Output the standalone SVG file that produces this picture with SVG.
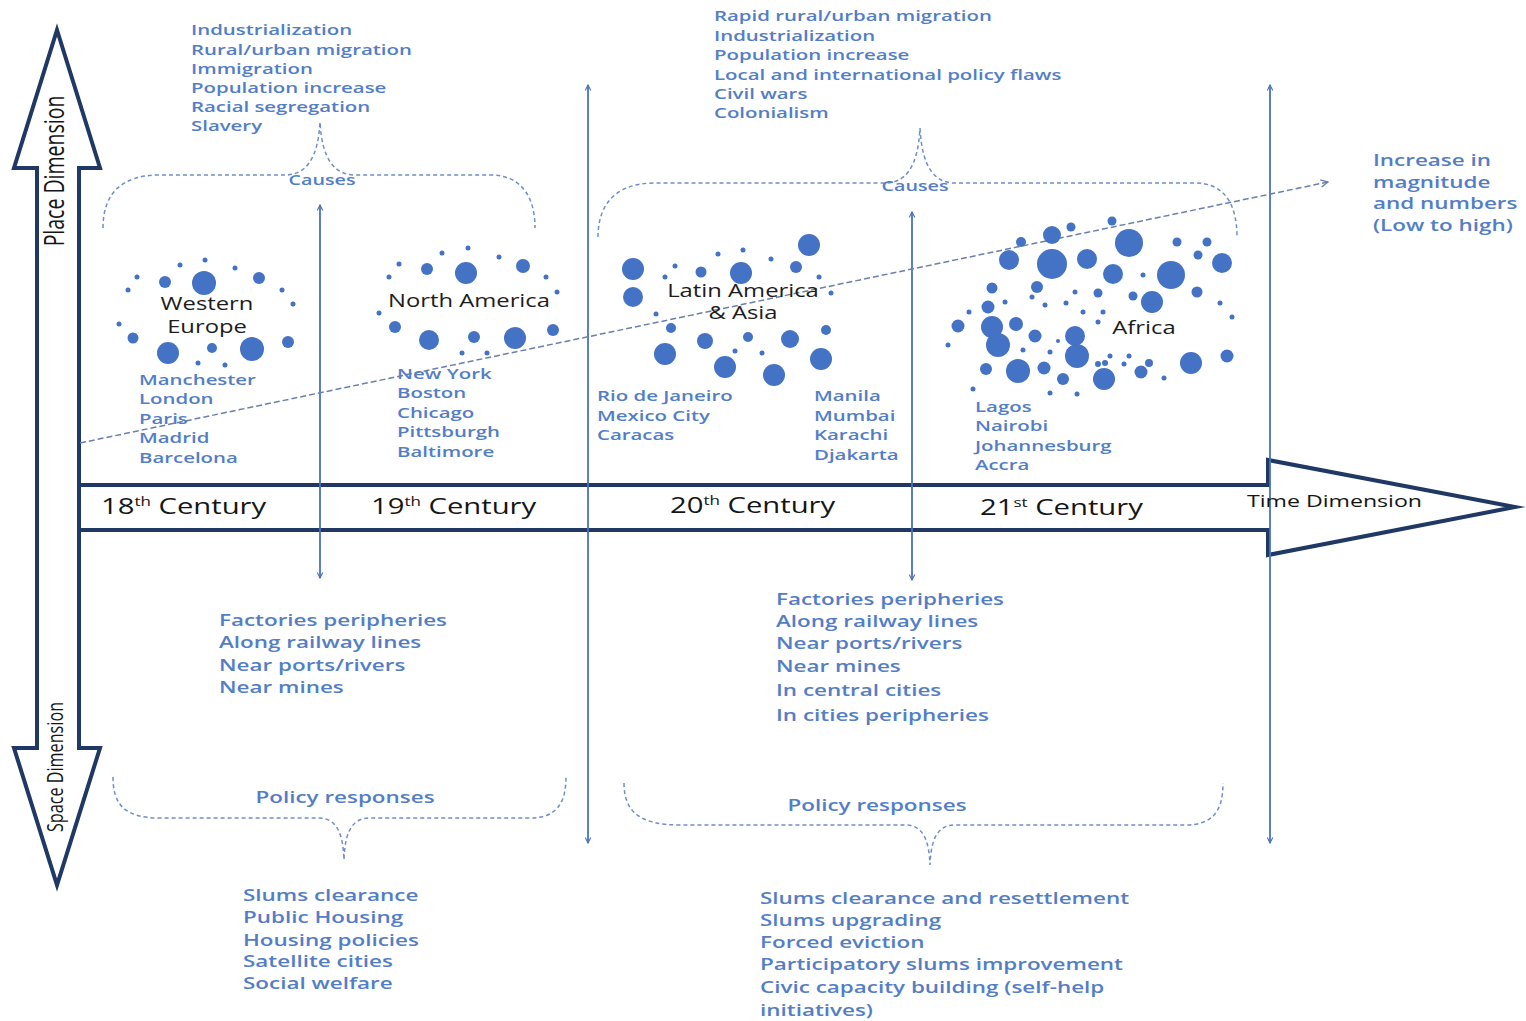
<svg xmlns="http://www.w3.org/2000/svg" width="1526" height="1021" viewBox="0 0 1526 1021">
<style>
  .bt{font-family:'Open Sans','DejaVu Sans',sans-serif;font-weight:600;fill:#537ec6;font-size:15px}
  .bl{font-size:16.5px}
  .sm{font-size:14.5px}
  .lab{font-family:'Open Sans','DejaVu Sans',sans-serif;font-weight:400;fill:#1c1c1c;font-size:17.5px}
  .cent{font-family:'Open Sans','DejaVu Sans',sans-serif;font-weight:400;fill:#151515;font-size:21.5px}
  .axis{font-family:'Open Sans','DejaVu Sans',sans-serif;font-weight:400;fill:#151515}
  .frame{fill:#fff;stroke:#1f3864;stroke-width:4;stroke-linejoin:miter;stroke-miterlimit:12}
  .vline{fill:none;stroke:#4a72c0;stroke-width:1.8}
  .brace{fill:none;stroke:#6f8ec8;stroke-width:1.5;stroke-dasharray:4 3}
  .trend{fill:none;stroke:#6a80aa;stroke-width:1.5;stroke-dasharray:6 3}
  .dots circle{fill:#4472c4}
</style>
<defs>
  <marker id="tip" viewBox="0 0 10 10" refX="9" refY="5" markerWidth="7" markerHeight="7" orient="auto-start-reverse" markerUnits="userSpaceOnUse">
    <path d="M1,1 L9,5 L1,9" fill="none" stroke="#4a72c0" stroke-width="1.6"/>
  </marker>
  <marker id="tipg" viewBox="0 0 10 10" refX="9" refY="5" markerWidth="9" markerHeight="9" orient="auto" markerUnits="userSpaceOnUse">
    <path d="M1,1 L9,5 L1,9" fill="none" stroke="#6a80aa" stroke-width="1.5"/>
  </marker>
</defs>
<rect width="1526" height="1021" fill="#fff"/>

<!-- time axis band with arrowhead -->
<g id="time-axis">
  <polygon class="frame" points="79,485 1268,485 1268,460 1515,507 1268,555 1268,530 79,530"/>
</g>

<!-- place / space vertical double arrow -->
<g id="place-space-axis">
  <polygon class="frame" points="57,30 100,168 79,168 79,748 100,748 57,885 14,748 37,748 37,168 14,168"/>
  <text class="axis" font-size="19.5" text-anchor="middle" dy="0.36em" transform="translate(54,171) scale(1.36,1) rotate(-90)">Place Dimension</text>
  <text class="axis" font-size="16.2" text-anchor="middle" dy="0.36em" transform="translate(55,767) scale(1.36,1) rotate(-90)">Space Dimension</text>
</g>

<!-- connectors: vertical arrows, braces, trend line -->
<g id="connectors">
  <line class="vline" x1="320" y1="205" x2="320" y2="578" marker-start="url(#tip)" marker-end="url(#tip)"/>
  <line class="vline" x1="588" y1="85" x2="588" y2="843" marker-start="url(#tip)" marker-end="url(#tip)"/>
  <line class="vline" x1="912" y1="212" x2="912" y2="580" marker-start="url(#tip)" marker-end="url(#tip)"/>
  <line class="vline" x1="1270" y1="85" x2="1270" y2="843" marker-start="url(#tip)" marker-end="url(#tip)"/>
  <path class="brace" d="M103,228 C103,195 120,175 160,175 L285,175 C305,175 318,160 320,122 C322,160 335,175 355,175 L490,175 C520,175 535,195 535,228"/>
  <path class="brace" d="M598,237 C598,205 615,183 655,183 L885,183 C905,183 918,168 920,128 C922,168 935,183 955,183 L1195,183 C1225,183 1237,205 1237,237"/>
  <path class="brace" d="M113,777 C113,805 125,818 160,818 L318,818 C335,818 343,830 344,860 C345,830 353,818 370,818 L530,818 C555,818 566,805 566,777"/>
  <path class="brace" d="M624,783 C624,812 640,825 680,825 L905,825 C922,825 929,838 930,865 C931,838 938,825 955,825 L1185,825 C1212,825 1223,812 1223,783"/>
  <line class="trend" x1="80" y1="443" x2="1328" y2="182" marker-end="url(#tipg)"/>
</g>

<!-- Western Europe cluster -->
<g id="western-europe">
  <g class="dots">
    <circle cx="137" cy="277" r="2.5"/><circle cx="180" cy="265" r="2.5"/><circle cx="205" cy="260" r="2.5"/><circle cx="235" cy="268" r="2.5"/>
    <circle cx="165" cy="282" r="6"/><circle cx="204" cy="283" r="12"/><circle cx="259" cy="278" r="6"/>
    <circle cx="128" cy="290" r="2.5"/><circle cx="282" cy="290" r="2.5"/><circle cx="293" cy="304" r="2.5"/><circle cx="119" cy="324" r="2.5"/>
    <circle cx="133" cy="338" r="5.5"/><circle cx="288" cy="342" r="6"/><circle cx="168" cy="353" r="11"/><circle cx="212" cy="348" r="5"/>
    <circle cx="252" cy="349" r="12"/><circle cx="198" cy="363" r="2.5"/><circle cx="225" cy="365" r="2.5"/>
  </g>
  <text class="lab" text-anchor="middle" transform="matrix(1.36 0 0 1 207 0)"><tspan x="0" y="310">Western</tspan><tspan x="0" y="333">Europe</tspan></text>
  <text class="bt" transform="matrix(1.36 0 0 1 139 0)"><tspan x="0" y="385.5">Manchester</tspan><tspan x="0" y="404.5">London</tspan><tspan x="0" y="424.5">Paris</tspan><tspan x="0" y="443.5">Madrid</tspan><tspan x="0" y="463.5">Barcelona</tspan></text>
</g>

<!-- North America cluster -->
<g id="north-america">
  <g class="dots">
    <circle cx="442" cy="253" r="2.5"/><circle cx="468" cy="248" r="2.5"/><circle cx="499" cy="257" r="2.5"/><circle cx="399" cy="264" r="2.5"/>
    <circle cx="427" cy="269" r="6"/><circle cx="466" cy="273" r="11"/><circle cx="523" cy="266" r="7"/>
    <circle cx="546" cy="277" r="2.5"/><circle cx="389" cy="277" r="2.5"/><circle cx="557" cy="292" r="2.5"/><circle cx="379" cy="313" r="2.5"/>
    <circle cx="395" cy="327" r="6"/><circle cx="429" cy="340" r="10"/><circle cx="474" cy="337" r="6"/><circle cx="515" cy="338" r="11"/>
    <circle cx="553" cy="330" r="6"/><circle cx="462" cy="353" r="2.5"/><circle cx="487" cy="353" r="2.5"/>
  </g>
  <text class="lab" text-anchor="middle" transform="matrix(1.36 0 0 1 469 0)"><tspan x="0" y="307">North America</tspan></text>
  <text class="bt" transform="matrix(1.36 0 0 1 397 0)"><tspan x="0" y="379.5">New York</tspan><tspan x="0" y="398.5">Boston</tspan><tspan x="0" y="418.5">Chicago</tspan><tspan x="0" y="437.5">Pittsburgh</tspan><tspan x="0" y="457.5">Baltimore</tspan></text>
</g>

<!-- Latin America & Asia cluster -->
<g id="latin-america-asia">
  <g class="dots">
    <circle cx="809" cy="245" r="11"/><circle cx="633" cy="269" r="11"/><circle cx="675" cy="266" r="2.5"/><circle cx="665" cy="277" r="2.5"/>
    <circle cx="718" cy="254" r="2.5"/><circle cx="743" cy="250" r="2.5"/><circle cx="701" cy="272" r="5.5"/><circle cx="741" cy="273" r="11"/>
    <circle cx="771" cy="259" r="2.5"/><circle cx="796" cy="267" r="6"/><circle cx="819" cy="277" r="2.5"/><circle cx="633" cy="297" r="10"/>
    <circle cx="831" cy="293" r="2.5"/><circle cx="656" cy="314" r="2.5"/><circle cx="671" cy="328" r="5"/><circle cx="705" cy="341" r="8"/>
    <circle cx="748" cy="337" r="5"/><circle cx="790" cy="339" r="9"/><circle cx="826" cy="330" r="5"/><circle cx="665" cy="354" r="11"/>
    <circle cx="735" cy="351" r="2.5"/><circle cx="762" cy="353" r="2.5"/><circle cx="725" cy="367" r="11"/><circle cx="821" cy="359" r="11"/>
    <circle cx="774" cy="375" r="11"/>
  </g>
  <text class="lab" font-size="17" text-anchor="middle" transform="matrix(1.36 0 0 1 743 0)"><tspan x="0" y="297">Latin America</tspan><tspan x="0" y="319">&amp; Asia</tspan></text>
  <text class="bt" transform="matrix(1.36 0 0 1 597 0)"><tspan x="0" y="401.5">Rio de Janeiro</tspan><tspan x="0" y="421.5">Mexico City</tspan><tspan x="0" y="440.5">Caracas</tspan></text>
  <text class="bt" transform="matrix(1.36 0 0 1 814 0)"><tspan x="0" y="401.5">Manila</tspan><tspan x="0" y="421.5">Mumbai</tspan><tspan x="0" y="440.5">Karachi</tspan><tspan x="0" y="460.5">Djakarta</tspan></text>
</g>

<!-- Africa cluster -->
<g id="africa">
  <g class="dots">
    <circle cx="1052" cy="235" r="9"/><circle cx="1071" cy="227" r="4.5"/><circle cx="1112" cy="221" r="4.5"/><circle cx="1021" cy="242" r="5"/>
    <circle cx="1129" cy="243" r="14"/><circle cx="1177" cy="242" r="4.5"/><circle cx="1207" cy="242" r="4.5"/><circle cx="1009" cy="260" r="10"/>
    <circle cx="1052" cy="264" r="15"/><circle cx="1087" cy="259" r="10"/><circle cx="1198" cy="255" r="4.5"/><circle cx="1222" cy="263" r="10"/>
    <circle cx="1113" cy="274" r="10"/><circle cx="1143" cy="275" r="2.5"/><circle cx="1171" cy="275" r="14"/><circle cx="992" cy="288" r="5.5"/>
    <circle cx="1037" cy="287" r="6"/><circle cx="1075" cy="292" r="2.5"/><circle cx="1098" cy="293" r="4.5"/><circle cx="1133" cy="296" r="4.5"/>
    <circle cx="1152" cy="302" r="11"/><circle cx="1197" cy="292" r="5.5"/><circle cx="1005" cy="302" r="2.5"/><circle cx="1032" cy="297" r="2.5"/>
    <circle cx="1045" cy="305" r="2.5"/><circle cx="1066" cy="303" r="2.5"/><circle cx="988" cy="307" r="6.5"/><circle cx="969" cy="312" r="2.5"/>
    <circle cx="1083" cy="312" r="2.5"/><circle cx="1103" cy="312" r="2.5"/><circle cx="1220" cy="303" r="2.5"/><circle cx="1232" cy="317" r="2.5"/>
    <circle cx="958" cy="326" r="6.5"/><circle cx="992" cy="327" r="11"/><circle cx="1016" cy="324" r="7"/><circle cx="1098" cy="322" r="2.5"/>
    <circle cx="948" cy="345" r="2.5"/><circle cx="998" cy="345" r="12"/><circle cx="1035" cy="336" r="6.5"/><circle cx="1075" cy="336" r="10"/>
    <circle cx="1058" cy="341" r="2"/><circle cx="1023" cy="350" r="2.5"/><circle cx="1050" cy="352" r="2.5"/><circle cx="1077" cy="356" r="12"/>
    <circle cx="1110" cy="356" r="2.5"/><circle cx="1129" cy="356" r="2.5"/><circle cx="1227" cy="356" r="6.5"/><circle cx="986" cy="369" r="6"/>
    <circle cx="1018" cy="371" r="12"/><circle cx="1044" cy="368" r="6.5"/><circle cx="1098" cy="364" r="3"/><circle cx="1105" cy="363" r="3"/>
    <circle cx="1124" cy="364" r="2.5"/><circle cx="1149" cy="363" r="4"/><circle cx="1141" cy="372" r="6.5"/><circle cx="1191" cy="363" r="11"/>
    <circle cx="1063" cy="379" r="6"/><circle cx="1104" cy="379" r="11"/><circle cx="1164" cy="378" r="2.5"/><circle cx="973" cy="389" r="2.5"/>
    <circle cx="1050" cy="393" r="2.5"/><circle cx="1077" cy="394" r="2.5"/>
  </g>
  <text class="lab" text-anchor="middle" transform="matrix(1.36 0 0 1 1144 0)"><tspan x="0" y="334">Africa</tspan></text>
  <text class="bt" transform="matrix(1.36 0 0 1 975 0)"><tspan x="0" y="412.5">Lagos</tspan><tspan x="0" y="431.5">Nairobi</tspan><tspan x="0" y="451.5">Johannesburg</tspan><tspan x="0" y="470.5">Accra</tspan></text>
</g>

<!-- causes of the two periods -->
<g id="causes-early">
  <text class="bt" transform="matrix(1.36 0 0 1 191 0)"><tspan x="0" y="35.5">Industrialization</tspan><tspan x="0" y="55">Rural/urban migration</tspan><tspan x="0" y="74.5">Immigration</tspan><tspan x="0" y="93.5">Population increase</tspan><tspan x="0" y="112.5">Racial segregation</tspan><tspan x="0" y="131.5">Slavery</tspan></text>
  <text class="bt sm" text-anchor="middle" transform="matrix(1.36 0 0 1 322 0)"><tspan x="0" y="185">Causes</tspan></text>
</g>
<g id="causes-late">
  <text class="bt" transform="matrix(1.36 0 0 1 714 0)"><tspan x="0" y="21.5">Rapid rural/urban migration</tspan><tspan x="0" y="41.5">Industrialization</tspan><tspan x="0" y="60.5">Population increase</tspan><tspan x="0" y="80.5">Local and international policy flaws</tspan><tspan x="0" y="99.5">Civil wars</tspan><tspan x="0" y="118.5">Colonialism</tspan></text>
  <text class="bt sm" text-anchor="middle" transform="matrix(1.36 0 0 1 915 0)"><tspan x="0" y="191">Causes</tspan></text>
</g>

<!-- trend label -->
<g id="trend-label">
  <text class="bt bl" transform="matrix(1.36 0 0 1 1373 0)"><tspan x="0" y="166">Increase in</tspan><tspan x="0" y="188">magnitude</tspan><tspan x="0" y="209">and numbers</tspan><tspan x="0" y="231">(Low to high)</tspan></text>
</g>

<!-- century labels -->
<g id="centuries">
  <text class="cent" transform="matrix(1.36 0 0 1 101 0)"><tspan x="0" y="514">18</tspan><tspan font-size="12.5" dy="-8">th</tspan><tspan dy="8"> Century</tspan></text>
  <text class="cent" transform="matrix(1.36 0 0 1 371 0)"><tspan x="0" y="514">19</tspan><tspan font-size="12.5" dy="-8">th</tspan><tspan dy="8"> Century</tspan></text>
  <text class="cent" transform="matrix(1.36 0 0 1 670 0)"><tspan x="0" y="513">20</tspan><tspan font-size="12.5" dy="-8">th</tspan><tspan dy="8"> Century</tspan></text>
  <text class="cent" transform="matrix(1.36 0 0 1 980 0)"><tspan x="0" y="515">21</tspan><tspan font-size="12.5" dy="-8">st</tspan><tspan dy="8"> Century</tspan></text>
  <text class="axis" font-size="17" transform="matrix(1.36 0 0 1 1247 0)"><tspan x="0" y="507">Time Dimension</tspan></text>
</g>

<!-- slum locations -->
<g id="locations-early">
  <text class="bt bl" transform="matrix(1.36 0 0 1 219 0)"><tspan x="0" y="626">Factories peripheries</tspan><tspan x="0" y="648">Along railway lines</tspan><tspan x="0" y="671">Near ports/rivers</tspan><tspan x="0" y="693">Near mines</tspan></text>
</g>
<g id="locations-late">
  <text class="bt bl" transform="matrix(1.36 0 0 1 776 0)"><tspan x="0" y="605">Factories peripheries</tspan><tspan x="0" y="627">Along railway lines</tspan><tspan x="0" y="649">Near ports/rivers</tspan><tspan x="0" y="672">Near mines</tspan><tspan x="0" y="696">In central cities</tspan><tspan x="0" y="721">In cities peripheries</tspan></text>
</g>

<!-- policy responses -->
<g id="policy-early">
  <text class="bt bl" text-anchor="middle" transform="matrix(1.36 0 0 1 345 0)"><tspan x="0" y="803">Policy responses</tspan></text>
  <text class="bt bl" transform="matrix(1.36 0 0 1 243 0)"><tspan x="0" y="901">Slums clearance</tspan><tspan x="0" y="923">Public Housing</tspan><tspan x="0" y="946">Housing policies</tspan><tspan x="0" y="967">Satellite cities</tspan><tspan x="0" y="989">Social welfare</tspan></text>
</g>
<g id="policy-late">
  <text class="bt bl" text-anchor="middle" transform="matrix(1.36 0 0 1 877 0)"><tspan x="0" y="811">Policy responses</tspan></text>
  <text class="bt bl" transform="matrix(1.36 0 0 1 760 0)"><tspan x="0" y="904">Slums clearance and resettlement</tspan><tspan x="0" y="926">Slums upgrading</tspan><tspan x="0" y="948">Forced eviction</tspan><tspan x="0" y="970">Participatory slums improvement</tspan><tspan x="0" y="993">Civic capacity building (self-help</tspan><tspan x="0" y="1016">initiatives)</tspan></text>
</g>
</svg>
